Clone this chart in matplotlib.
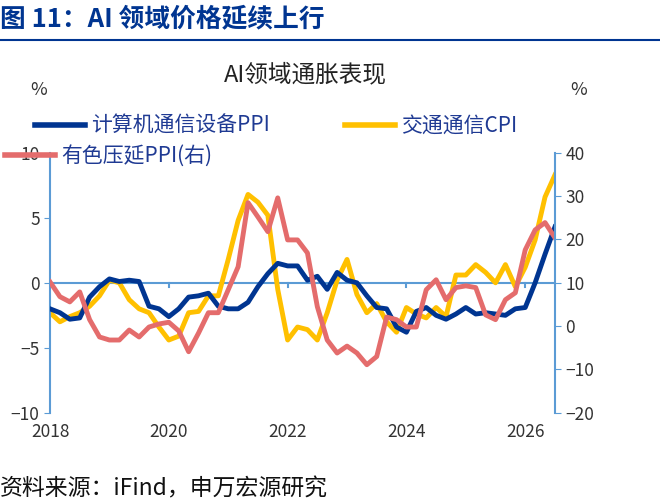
import matplotlib.pyplot as plt
import numpy as np
from matplotlib.lines import Line2D

plt.rcParams['font.family'] = ['Noto Sans CJK SC', 'DejaVu Sans']

# 数据：2018年起每两个月一个读数
t = 2018 + np.arange(51) / 6
ppi_computer = [-2.0, -2.3, -2.8, -2.7, -1.1, -0.3, 0.3, 0.1, 0.2, 0.1, -1.8, -2.0, -2.6,
                -2.0, -1.1, -1.0, -0.8, -1.8, -2.0, -2.0, -1.5, -0.3, 0.7, 1.5, 1.3, 1.3,
                0.2, 0.5, -0.5, 0.8, 0.2, 0.0, -1.0, -1.9, -2.0, -3.4, -3.8, -2.2, -1.9,
                -2.5, -2.8, -2.4, -1.9, -2.4, -2.3, -2.4, -2.5, -2.0, -1.9, 0.0, 2.2]
cpi_comm = [-2.3, -3.0, -2.6, -2.3, -1.8, -1.0, 0.2, 0.0, -1.3, -2.0, -2.3, -3.4, -4.4,
            -4.1, -2.3, -2.2, -1.0, -1.0, 1.8, 4.8, 6.8, 6.2, 5.2, -0.5, -4.4, -3.4,
            -3.6, -4.4, -2.3, 0.2, 1.8, -0.9, -2.3, -1.6, -3.0, -3.8, -1.9, -2.4, -2.7,
            -1.9, -2.6, 0.6, 0.6, 1.4, 0.8, 0.0, 1.4, -0.3, 1.2, 3.3, 6.6]
ppi_nonferrous = [10.2, 6.8, 5.6, 7.9, 1.5, -2.5, -3.2, -3.2, -0.9, -2.5, -0.2, 0.5, 0.9,
                  -1.1, -5.9, -1.6, 3.1, 3.1, 8.4, 13.7, 28.5, 25.2, 21.8, 29.6, 19.9, 19.9,
                  16.9, 4.5, -3.2, -6.2, -4.6, -6.2, -8.9, -7.0, 2.1, 1.5, -0.2, -0.2, 8.4,
                  10.7, 6.1, 8.9, 9.3, 8.9, 2.6, 1.5, 6.1, 7.7, 17.6, 22.2, 23.9]
t_last = 2026.5
ppi_last, cpi_last, nf_last = 4.3, 8.3, 20.4
t = np.append(t, t_last)
ppi_computer = ppi_computer + [ppi_last]
cpi_comm = cpi_comm + [cpi_last]
ppi_nonferrous = ppi_nonferrous + [nf_last]

years = [2018, 2020, 2022, 2024, 2026]

blue, yellow, red, axc = '#003591', '#FFC000', '#E46C6C', '#5B9BD5'

fig = plt.figure(figsize=(6.6, 5.01), dpi=100)
ax = fig.add_axes([0.0758, 0.176, 0.765, 0.519])
ax2 = ax.twinx()

ax.plot(t, ppi_computer, color=blue, lw=3.5, zorder=3)
ax.plot(t, cpi_comm, color=yellow, lw=3.5, zorder=2)
ax2.plot(t, ppi_nonferrous, color=red, lw=3.5)

ax.set_xlim(2018, 2026.5)
ax.set_ylim(-10, 10)
ax2.set_ylim(-20, 40)
ax.set_yticks([-10, -5, 0, 5, 10])
ax2.set_yticks(range(-20, 41, 10))

for a in (ax, ax2):
    a.spines['top'].set_visible(False)
    a.spines['bottom'].set_visible(False)
    a.tick_params(colors=axc, labelcolor='#333333', labelsize=12.5, direction='out', length=4)
ax.spines['left'].set_color(axc)
ax.spines['right'].set_visible(False)
ax2.spines['left'].set_visible(False)
ax2.spines['right'].set_color(axc)
ax.spines['left'].set_linewidth(1.5)
ax2.spines['right'].set_linewidth(1.5)

ax.axhline(0, color=axc, lw=1.5, zorder=1)
ax.set_xticks(years)
ax.tick_params(axis='x', length=0, labelbottom=False)
for y in years:
    ax.plot([y, y], [0, -0.3], color=axc, lw=1.5, zorder=1)
    ax.text(y, -10.8, str(y), ha='center', va='top', fontsize=12.5, color='#333333')

# 标题与图例
fig.text(0.0, 0.962, '图 11：AI 领域价格延续上行', fontsize=18.5, fontweight='bold',
         color='#003591', va='center')
fig.add_artist(Line2D([0, 1], [0.92, 0.92], color='#003591', lw=1.5))
fig.text(0.462, 0.85, 'AI领域通胀表现', fontsize=17, ha='center', va='center', color='#222222')
fig.text(0.058, 0.82, '%', fontsize=13, ha='center', va='center', color='#333333')
fig.text(0.876, 0.82, '%', fontsize=13, ha='center', va='center', color='#333333')

legend_items = [(0.053, 0.75, blue, '计算机通信设备PPI'),
                (0.523, 0.75, yellow, '交通通信CPI'),
                (0.008, 0.69, red, '有色压延PPI(右)')]
for x0, y0, c, lab in legend_items:
    fig.add_artist(Line2D([x0, x0 + 0.076], [y0, y0], color=c, lw=4))
    fig.text(x0 + 0.085, y0, lab, fontsize=15, va='center', color='#1F3A93')

fig.text(0.0, 0.025, '资料来源：iFind，申万宏源研究', fontsize=16.5, va='center', color='#111111')

fig.savefig('out.png', dpi=100)
